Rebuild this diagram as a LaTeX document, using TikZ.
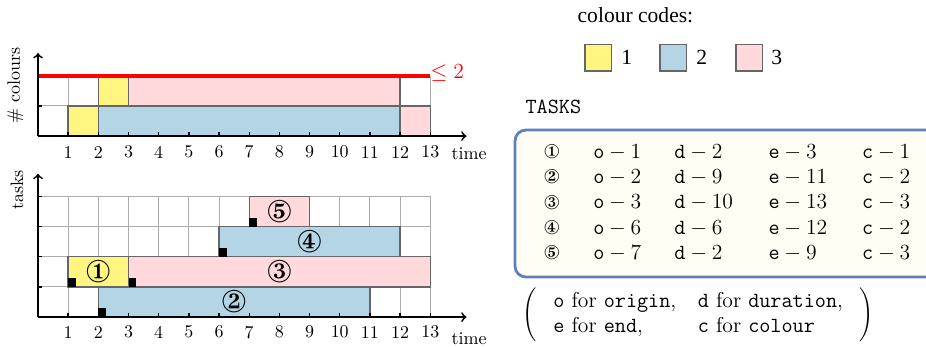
\documentclass[tikz,border=0pt]{standalone}
\usepackage{fontspec}
\usepackage{pifont}
\newfontfamily\timesfont{Liberation Serif}

\definecolor{cyellow}{RGB}{255,245,128}
\definecolor{cblue}{RGB}{179,213,229}
\definecolor{cpink}{RGB}{255,217,220}
\definecolor{boxblue}{RGB}{96,128,190}
\definecolor{boxfill}{RGB}{255,254,244}

\tikzset{
  gridline/.style={gray!65, line width=0.5pt},
  bar/.style={draw=black!60, line width=0.8pt},
  startmark/.style={fill=black},
  axis/.style={->, line width=1pt},
  entry/.style={anchor=base west, inner sep=0pt, font=\large},
  tasknum/.style={font=\fontsize{17.5}{20}\selectfont},
}

\begin{document}
\begin{tikzpicture}[x=0.59cm,y=0.59cm]
  \clip (-1.26,-0.96) rectangle (29.43,10.51);

  % colours over time
  \foreach \i in {0,...,13} \draw [gridline] (\i,6) -- (\i,8);
  \foreach \j in {7,8} \draw [gridline] (0,\j) -- (13,\j);
  \filldraw [bar, fill=cyellow] (1,6) rectangle (2,7);
  \filldraw [bar, fill=cblue] (2,6) rectangle (12,7);
  \filldraw [bar, fill=cpink] (12,6) rectangle (13,7);
  \filldraw [bar, fill=cyellow] (2,7) rectangle (3,8);
  \filldraw [bar, fill=cpink] (3,7) rectangle (12,8);
  \draw [red, line width=2.2pt] (0,8) -- (13,8);
  \foreach \i in {1,...,13} \draw [line width=0.8pt] (\i,6) -- (\i,6.12);
  \draw [line width=0.8pt] (0,7) -- (0.12,7);
  \draw [axis] (0,6) -- (14.2,6);
  \draw [axis] (0,6) -- (0,8.75);
  \foreach \i in {1,...,13} \node (tc\i) at (\i,5.47) {\i};
  \node (bound) at (13.0,8.09) [right, inner sep=0pt] {\large\color{red}$\leq 2$};
  \node (timec) at (14.29,5.4) {time};
  \node (ycol) at (-0.75,7.69) [rotate=90] {\# colours};

  % tasks over time
  \foreach \i in {0,...,13} \draw [gridline] (\i,0) -- (\i,4);
  \foreach \j in {1,...,4} \draw [gridline] (0,\j) -- (13,\j);
  \filldraw [bar, fill=cblue] (2,0) rectangle (11,1);
  \filldraw [bar, fill=cyellow] (1,1) rectangle (3,2);
  \filldraw [bar, fill=cpink] (3,1) rectangle (13,2);
  \filldraw [bar, fill=cblue] (6,2) rectangle (12,3);
  \filldraw [bar, fill=cpink] (7,3) rectangle (9,4);
  \foreach \x/\y in {1/1, 2/0, 3/1, 6/2, 7/3}
    \fill [startmark] (\x,\y) rectangle ++(0.26,0.3);
  \node (t1) at (2,1.5) [tasknum] {\ding{172}};
  \node (t2) at (6.5,0.5) [tasknum] {\ding{173}};
  \node (t3) at (8,1.5) [tasknum] {\ding{174}};
  \node (t4) at (9,2.5) [tasknum] {\ding{175}};
  \node (t5) at (8,3.5) [tasknum] {\ding{176}};
  \foreach \i in {1,...,13} \draw [line width=0.8pt] (\i,0) -- (\i,0.12);
  \foreach \j in {1,...,4} \draw [line width=0.8pt] (0,\j) -- (0.12,\j);
  \draw [axis] (0,0) -- (14.2,0);
  \draw [axis] (0,0) -- (0,4.75);
  \foreach \i in {1,...,13} \node (tt\i) at (\i,-0.5) {\i};
  \node (timet) at (14.29,-0.7) {time};
  \node (ytask) at (-0.7,4.21) [rotate=90] {tasks};

  % colour codes
  \node (codes) at (19.8,10.0) {\timesfont\large colour codes:};
  \filldraw [bar, fill=cyellow] (18.13,8.16) rectangle (19.01,9.04);
  \filldraw [bar, fill=cblue] (20.62,8.16) rectangle (21.5,9.04);
  \filldraw [bar, fill=cpink] (23.13,8.16) rectangle (24.01,9.04);
  \node (code1) at (19.51,8.6) {\timesfont\large 1};
  \node (code2) at (22.0,8.6) {\timesfont\large 2};
  \node (code3) at (24.48,8.6) {\timesfont\large 3};

  % task table
  \node (tasks) at (17.08,6.97) {\large\ttfamily TASKS};
  \draw [boxblue, line width=1.6pt, fill=boxfill, rounded corners=6pt]
    (15.81,1.33) rectangle (30.6,6.2);
  \foreach \n/\o/\d/\e/\c [count=\r] in {172/1/2/3/1, 173/2/9/11/2,
      174/3/10/13/3, 175/6/6/12/2, 176/7/2/9/3} {
    \pgfmathsetmacro\yy{5.48-0.8375*(\r-1)}
    \node (n\r) at (17.03,\yy) {\fontsize{11}{13}\selectfont\ding{\n}};
    \node (o\r) at (18.39,\yy-0.22) [entry] {$\mathtt{o}-\o$};
    \node (d\r) at (21.08,\yy-0.22) [entry] {$\mathtt{d}-\d$};
    \node (e\r) at (24.2,\yy-0.22) [entry] {$\mathtt{e}-\e$};
    \node (c\r) at (27.3,\yy-0.22) [entry] {$\mathtt{c}-\c$};
  }

  % key to the letters
  \node (key) at (21.88,0.07) {\large$\left(\;\begin{tabular}{ll}
      \texttt{o} for \texttt{origin}, & \texttt{d} for \texttt{duration},\\
      \texttt{e} for \texttt{end}, & \texttt{c} for \texttt{colour}
    \end{tabular}\;\right)$};
\end{tikzpicture}
\end{document}
